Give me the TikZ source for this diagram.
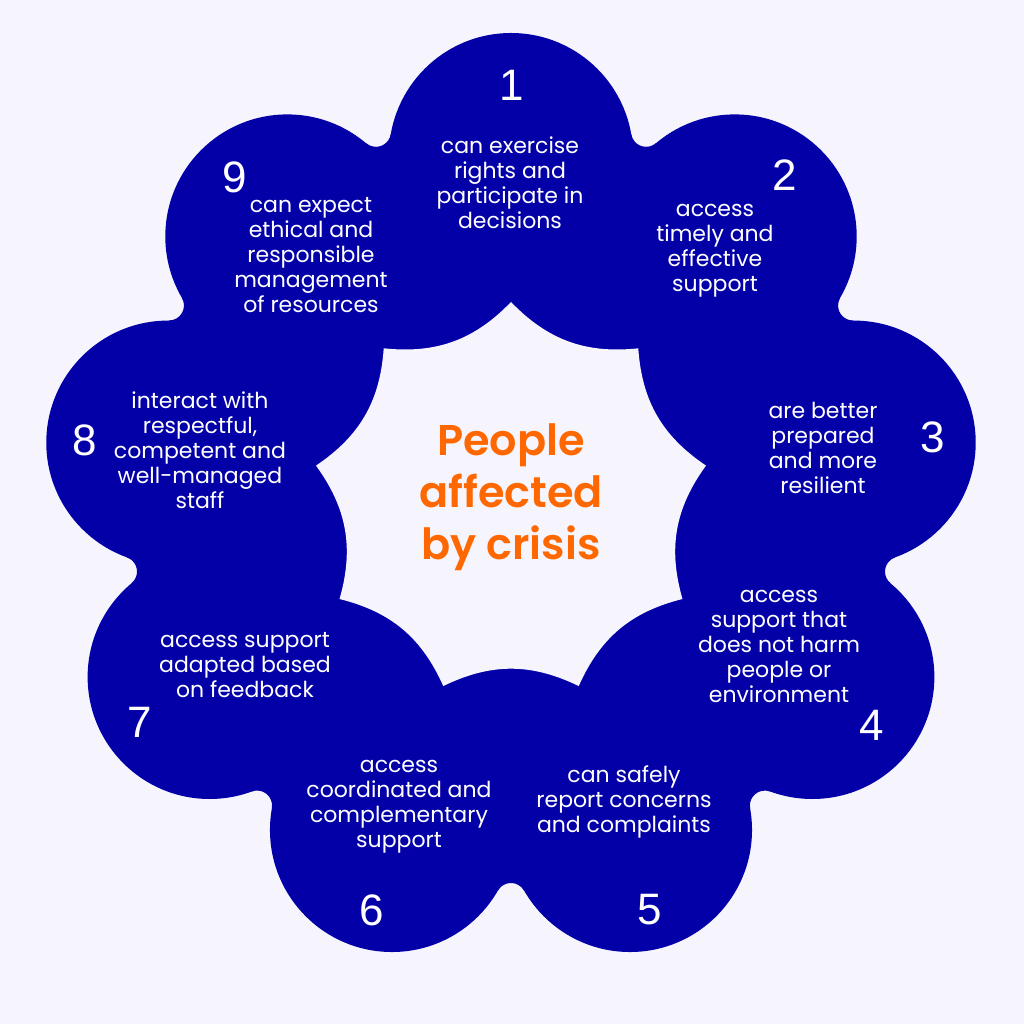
\documentclass[tikz,border=0pt]{standalone}
\usepackage{fontspec}
\setmainfont{Poppins}[BoldFont={Poppins SemiBold}]
\newfontfamily\numfont{Liberation Sans}
\usetikzlibrary{calc}
\definecolor{fondo}{RGB}{246,245,253}
\definecolor{azul}{RGB}{4,0,168}
\definecolor{naranja}{RGB}{255,104,0}
\begin{document}
\begin{tikzpicture}[x=1pt,y=1pt]
\tikzstyle{numero}=[text=white,inner sep=0pt,font=\numfont\fontsize{44}{44}\selectfont]
\tikzstyle{texto}=[text=white,inner sep=0pt,align=center,font=\fontsize{22}{25}\selectfont]
%fondo
\fill[fondo] (-511,-521) rectangle (513,503);
%petalos
\foreach \i in {0,...,8}
  \fill[azul] (90-40*\i:348) circle[radius=122];
\fill[azul] (0,0) circle[radius=330];
%esquinas entre petalos
\foreach \i in {0,...,8}
  \fill[azul] (90-40*\i:348) -- (50-40*\i:348) -- ($(70-40*\i:395)+(310.3-40*\i:15)$)
    arc[start angle=310.3-40*\i, end angle=189.7-40*\i, radius=15] -- cycle;
%hueco central
\fill[fondo,shift={(0,3)}] (90:198) \foreach \i in {1,...,8} { to[bend left=26] (90+40*\i:198) }
  to[bend left=26] (90:198) -- cycle;
%numeros
\node[numero] (n1) at (1,418) {1};
\node[numero] (n2) at (274,328) {2};
\node[numero] (n3) at (422,66) {3};
\node[numero] (n4) at (361,-222) {4};
\node[numero] (n5) at (139,-407) {5};
\node[numero] (n6) at (-139,-407) {6};
\node[numero] (n7) at (-371,-219) {7};
\node[numero] (n8) at (-426,63) {8};
\node[numero] (n9) at (-276,326) {9};
%textos
\node[texto] (t1) at (-1,320) {can exercise\\rights and\\participate in\\decisions};
\node[texto] (t2) at (204,252) {access\\timely and\\effective\\support};
\node[texto] (t3) at (312,55) {are better\\prepared\\and more\\resilient};
\node[texto] (t4) at (268,-143) {access\\support that\\does not harm\\people or\\environment};
\node[texto] (t5) at (113,-299) {can safely\\report concerns\\and complaints};
\node[texto] (t6) at (-112,-304) {access\\coordinated and\\complementary\\support};
\node[texto] (t7) at (-266,-162) {access support\\adapted based\\on feedback};
\node[texto] (t8) at (-311,53) {interact with\\respectful,\\competent and\\well-managed\\staff};
\node[texto] (t9) at (-200,248) {can expect\\ethical and\\responsible\\management\\of resources};
%centro
\node[text=naranja,inner sep=0pt,align=center,font=\bfseries\fontsize{43}{52}\selectfont]
  (centro) at (0,6) {People\\affected\\by crisis};
\end{tikzpicture}
\end{document}
